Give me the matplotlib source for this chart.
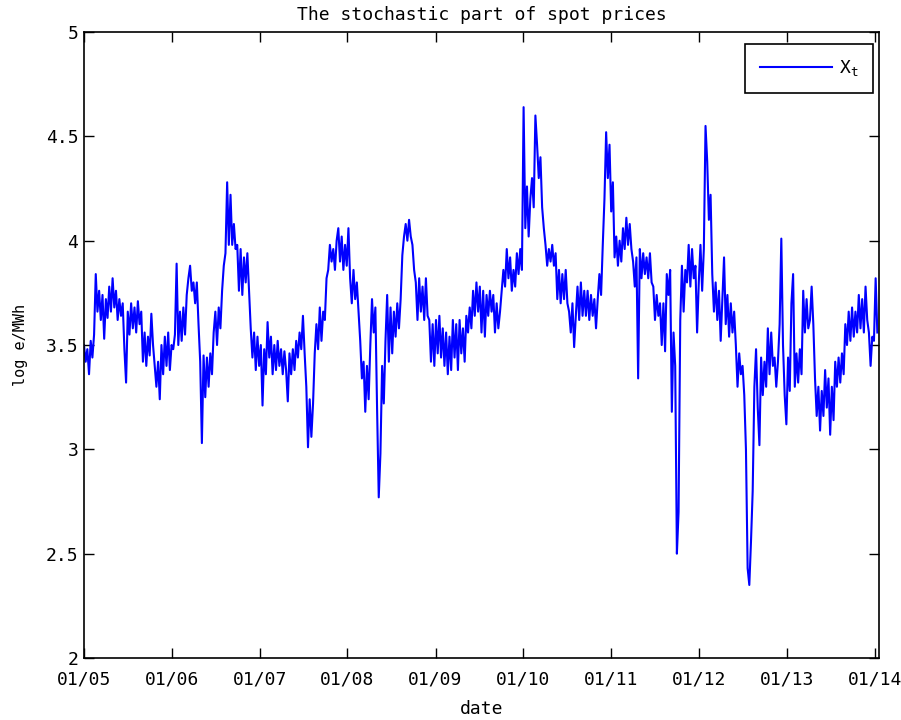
import matplotlib
matplotlib.use("Agg")
import matplotlib.pyplot as plt
import matplotlib.dates as mdates
from matplotlib.ticker import FormatStrFormatter
import pandas as pd

# Weekly values of the stochastic component X_t (log EUR/MWh), starting 2005-01-01
x_t = [
    3.50, 3.42, 3.48, 3.36, 3.52, 3.44, 3.55, 3.84, 3.66, 3.76,
    3.62, 3.74, 3.53, 3.72, 3.63, 3.78, 3.66, 3.82, 3.68, 3.76,
    3.62, 3.72, 3.64, 3.70, 3.48, 3.32, 3.66, 3.55, 3.70, 3.58,
    3.68, 3.56, 3.71, 3.60, 3.66, 3.42, 3.56, 3.40, 3.54, 3.45,
    3.65, 3.50, 3.40, 3.30, 3.42, 3.24, 3.50, 3.36, 3.54, 3.40,
    3.56, 3.38, 3.50, 3.48, 3.55, 3.89, 3.50, 3.66, 3.52, 3.68,
    3.55, 3.74, 3.82, 3.88, 3.76, 3.80, 3.70, 3.80, 3.60, 3.42,
    3.03, 3.45, 3.25, 3.44, 3.30, 3.46, 3.36, 3.56, 3.66, 3.50,
    3.68, 3.58, 3.76, 3.88, 3.94, 4.28, 3.98, 4.22, 3.98, 4.08,
    3.96, 3.98, 3.76, 3.96, 3.74, 3.92, 3.80, 3.94, 3.76, 3.58,
    3.44, 3.56, 3.38, 3.54, 3.40, 3.50, 3.21, 3.48, 3.36, 3.61,
    3.44, 3.54, 3.36, 3.50, 3.38, 3.52, 3.40, 3.48, 3.36, 3.47,
    3.38, 3.23, 3.46, 3.36, 3.48, 3.38, 3.52, 3.44, 3.56, 3.48,
    3.64, 3.46, 3.30, 3.01, 3.24, 3.06, 3.22, 3.46, 3.60, 3.48,
    3.68, 3.52, 3.66, 3.62, 3.82, 3.86, 3.98, 3.90, 3.96, 3.86,
    4.00, 4.06, 3.90, 4.02, 3.86, 3.98, 3.88, 4.06, 3.82, 3.70,
    3.86, 3.72, 3.80, 3.66, 3.52, 3.34, 3.42, 3.18, 3.40, 3.24,
    3.50, 3.72, 3.56, 3.68, 3.20, 2.77, 2.98, 3.40, 3.22, 3.52,
    3.74, 3.42, 3.68, 3.46, 3.66, 3.54, 3.70, 3.58, 3.72, 3.93,
    4.02, 4.08, 4.00, 4.10, 4.02, 3.98, 3.86, 3.80, 3.62, 3.82,
    3.66, 3.78, 3.62, 3.82, 3.64, 3.62, 3.42, 3.60, 3.40, 3.62,
    3.46, 3.64, 3.44, 3.58, 3.40, 3.56, 3.36, 3.54, 3.38, 3.62,
    3.44, 3.60, 3.38, 3.62, 3.46, 3.58, 3.42, 3.64, 3.56, 3.68,
    3.58, 3.76, 3.64, 3.80, 3.66, 3.78, 3.56, 3.76, 3.54, 3.74,
    3.64, 3.76, 3.66, 3.74, 3.56, 3.70, 3.58, 3.66, 3.76, 3.86,
    3.78, 3.96, 3.82, 3.92, 3.76, 3.86, 3.78, 3.94, 3.84, 3.96,
    3.86, 4.64, 4.06, 4.26, 4.02, 4.20, 4.30, 4.16, 4.60, 4.46,
    4.30, 4.40, 4.16, 4.06, 3.98, 3.88, 3.96, 3.90, 3.98, 3.88,
    3.94, 3.72, 3.86, 3.70, 3.84, 3.72, 3.86, 3.70, 3.66, 3.56,
    3.70, 3.49, 3.64, 3.78, 3.62, 3.80, 3.64, 3.76, 3.64, 3.76,
    3.62, 3.74, 3.64, 3.72, 3.58, 3.72, 3.84, 3.74, 3.98, 4.20,
    4.52, 4.30, 4.46, 4.14, 4.28, 3.92, 4.02, 3.88, 4.00, 3.90,
    4.06, 3.96, 4.11, 3.98, 4.08, 3.96, 3.90, 3.78, 3.92, 3.34,
    3.96, 3.82, 3.94, 3.84, 3.92, 3.82, 3.94, 3.80, 3.78, 3.62,
    3.74, 3.64, 3.70, 3.50, 3.70, 3.47, 3.84, 3.74, 3.86, 3.18,
    3.56, 3.40, 2.50, 2.70, 3.62, 3.88, 3.66, 3.86, 3.80, 3.98,
    3.78, 3.96, 3.82, 3.88, 3.56, 3.80, 3.98, 3.76, 3.96, 4.55,
    4.38, 4.10, 4.22, 3.84, 3.66, 3.80, 3.62, 3.76, 3.52, 3.72,
    3.92, 3.60, 3.74, 3.54, 3.70, 3.56, 3.66, 3.50, 3.30, 3.46,
    3.36, 3.40, 3.26, 3.00, 2.43, 2.35, 2.56, 2.80, 3.30, 3.48,
    3.20, 3.02, 3.44, 3.26, 3.42, 3.30, 3.58, 3.36, 3.56, 3.40,
    3.44, 3.30, 3.42, 3.60, 4.01, 3.50, 3.26, 3.12, 3.44, 3.28,
    3.70, 3.84, 3.30, 3.46, 3.32, 3.48, 3.36, 3.76, 3.56, 3.72,
    3.58, 3.62, 3.78, 3.60, 3.34, 3.16, 3.30, 3.09, 3.28, 3.16,
    3.38, 3.20, 3.34, 3.07, 3.30, 3.14, 3.42, 3.30, 3.44, 3.32,
    3.46, 3.36, 3.60, 3.50, 3.66, 3.52, 3.68, 3.54, 3.66, 3.56,
    3.74, 3.58, 3.72, 3.56, 3.78, 3.62, 3.56, 3.40, 3.54, 3.52,
    3.82, 3.56,
]
dates = pd.date_range("2005-01-01", periods=len(x_t), freq="7D")

year_ticks = pd.date_range("2005-01-01", "2014-01-01", freq="YS")
y_ticks = [2, 2.5, 3, 3.5, 4, 4.5, 5]

plt.rcParams["font.family"] = "DejaVu Sans Mono"

fig = plt.figure(figsize=(9.01, 7.2), dpi=100)
ax = fig.add_axes([0.0932, 0.0861, 0.8824, 0.8694])

ax.plot(dates, x_t, color=(0, 0, 1), linewidth=1.5, label=r"X$_\mathregular{t}$")

ax.set_xlim(pd.Timestamp("2005-01-01"), pd.Timestamp("2014-01-18"))
ax.set_ylim(2, 5)
ax.set_xticks(year_ticks)
ax.xaxis.set_major_formatter(mdates.DateFormatter("%m/%y"))
ax.set_yticks(y_ticks)
ax.yaxis.set_major_formatter(FormatStrFormatter("%g"))

ax.tick_params(axis="both", direction="in", length=7, width=1, top=True,
               right=True, labelsize=13, colors="black")
ax.tick_params(axis="x", pad=9)
ax.tick_params(axis="y", pad=4)
for sp in ax.spines.values():
    sp.set_linewidth(1.2)
    sp.set_color("black")

ax.set_title("The stochastic part of spot prices", fontsize=13, pad=9)
ax.set_xlabel("date", fontsize=13, labelpad=8)
ax.set_ylabel("log e/MWh", fontsize=11, labelpad=13)

leg = ax.legend(loc="upper right", bbox_to_anchor=(0.9925, 0.981),
                borderaxespad=0, fancybox=False, framealpha=1,
                edgecolor="black", fontsize=13, handlelength=4.0,
                handletextpad=0.4, borderpad=0.8)
leg.get_frame().set_linewidth(1.2)

fig.savefig("out.png", dpi=100)
